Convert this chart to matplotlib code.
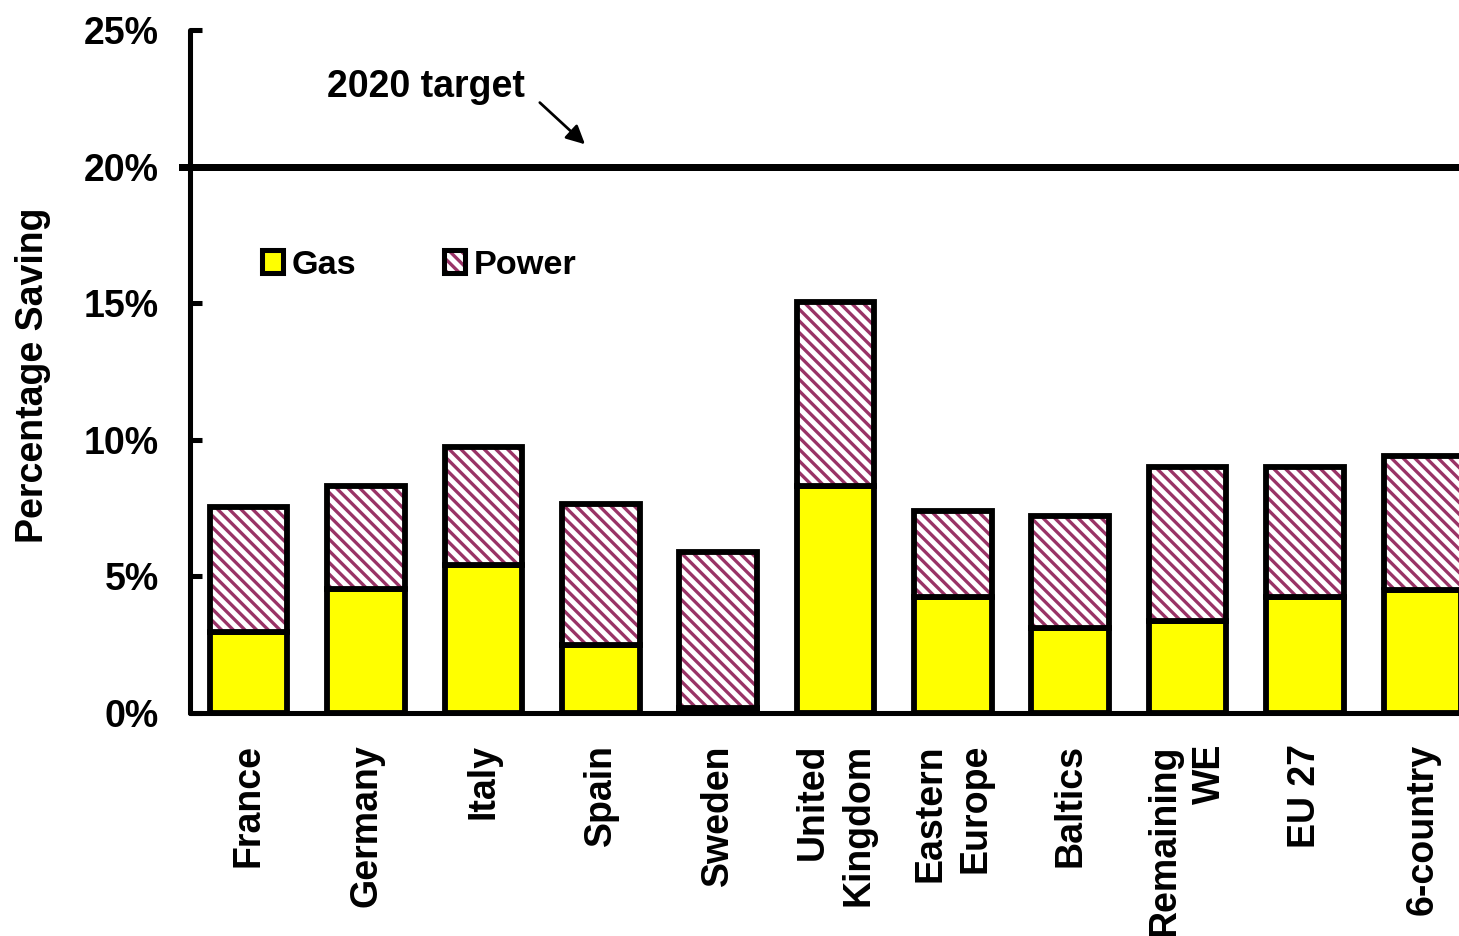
import matplotlib
matplotlib.use("Agg")
import matplotlib.pyplot as plt
from matplotlib.patches import Patch

categories = ["France", "Germany", "Italy", "Spain", "Sweden", "United\nKingdom",
              "Eastern\nEurope", "Baltics", "Remaining\nWE", "EU 27", "6-country"]
gas = [2.95, 4.55, 5.4, 2.5, 0.2, 8.3, 4.25, 3.1, 3.35, 4.25, 4.5]
total = [7.55, 8.3, 9.75, 7.65, 5.9, 15.05, 7.4, 7.2, 9.0, 9.0, 9.4]
power = [t - g for t, g in zip(total, gas)]
target = 20
yticks = [0, 5, 10, 15, 20, 25]
ytick_labels = ["0%", "5%", "10%", "15%", "20%", "25%"]

DPI = 140
W, H = 1459, 936
plt.rcParams['font.family'] = ['Liberation Sans', 'DejaVu Sans']
plt.rcParams['font.weight'] = 'bold'
plt.rcParams['hatch.linewidth'] = 1.7
FS = 19.3
LFS = 17.6

fig = plt.figure(figsize=(W / DPI, H / DPI), dpi=DPI)
left_px, right_px = 190, 1481
bot_px, top_px = 713, 30
ax = fig.add_axes([left_px / W, 1 - bot_px / H, (right_px - left_px) / W, (bot_px - top_px) / H])

x = list(range(len(categories)))
bw = 0.66
gas_c = '#FFFF00'
hatch_c = '#993366'
edge_lw = 3.0
HATCH = '\\\\\\\\'

ax.bar(x, gas, width=bw, color=gas_c, edgecolor='black', linewidth=edge_lw, zorder=3)
ax.bar(x, power, bottom=gas, width=bw, color='white', edgecolor=hatch_c, hatch=HATCH,
       linewidth=0, zorder=3)
ax.bar(x, power, bottom=gas, width=bw, fill=False, edgecolor='black', linewidth=edge_lw, zorder=4)

ax.axhline(target, xmin=-0.006, xmax=1, color='black', linewidth=3.6, zorder=5, clip_on=False)

ax.set_xlim(-0.5, 10.5)
ax.set_ylim(0, 25)
ax.set_yticks(yticks)
ax.set_yticklabels(ytick_labels, fontsize=FS, fontweight='bold')
ax.tick_params(axis='y', direction='in', length=6, width=2.6, pad=16)
ax.set_xticks(x)
ax.set_xticklabels(categories, rotation=90, ha='center', va='top', multialignment='right',
                   fontsize=FS, fontweight='bold', linespacing=1.33)
ax.tick_params(axis='x', length=0, pad=16)

for s in ['top', 'right']:
    ax.spines[s].set_visible(False)
for s in ['left', 'bottom']:
    ax.spines[s].set_linewidth(2.6)
    ax.spines[s].set_capstyle('round')

fig.text(33 / W, 1 - 375 / H, "Percentage Saving", rotation=90, ha='center', va='center',
         fontsize=FS, fontweight='bold')

ax.annotate("", xy=(2.89, 20.72), xytext=(2.456, 22.44),
            arrowprops=dict(arrowstyle='-|>', color='black', lw=1.4, mutation_scale=20))
ax.text(0.667, 22.9, "2020 target", ha='left', va='center', fontsize=FS, fontweight='bold')

gas_h = Patch(facecolor=gas_c, edgecolor='black', linewidth=2.6)
pow_fill = Patch(facecolor='white', edgecolor=hatch_c, hatch=HATCH, linewidth=0)
pow_edge = Patch(fill=False, edgecolor='black', linewidth=2.6)
leg = ax.legend(handles=[gas_h, (pow_fill, pow_edge)], labels=['Gas', 'Power'], ncol=2,
                frameon=False, loc='center left',
                bbox_to_anchor=((262 - left_px) / (right_px - left_px), (bot_px - 265) / (bot_px - top_px)),
                borderpad=0, borderaxespad=0, handlelength=0.62, handleheight=0.62,
                handletextpad=0.25, columnspacing=2.55, prop={'size': LFS, 'weight': 'bold'})

fig.savefig("out.png", dpi=DPI)
